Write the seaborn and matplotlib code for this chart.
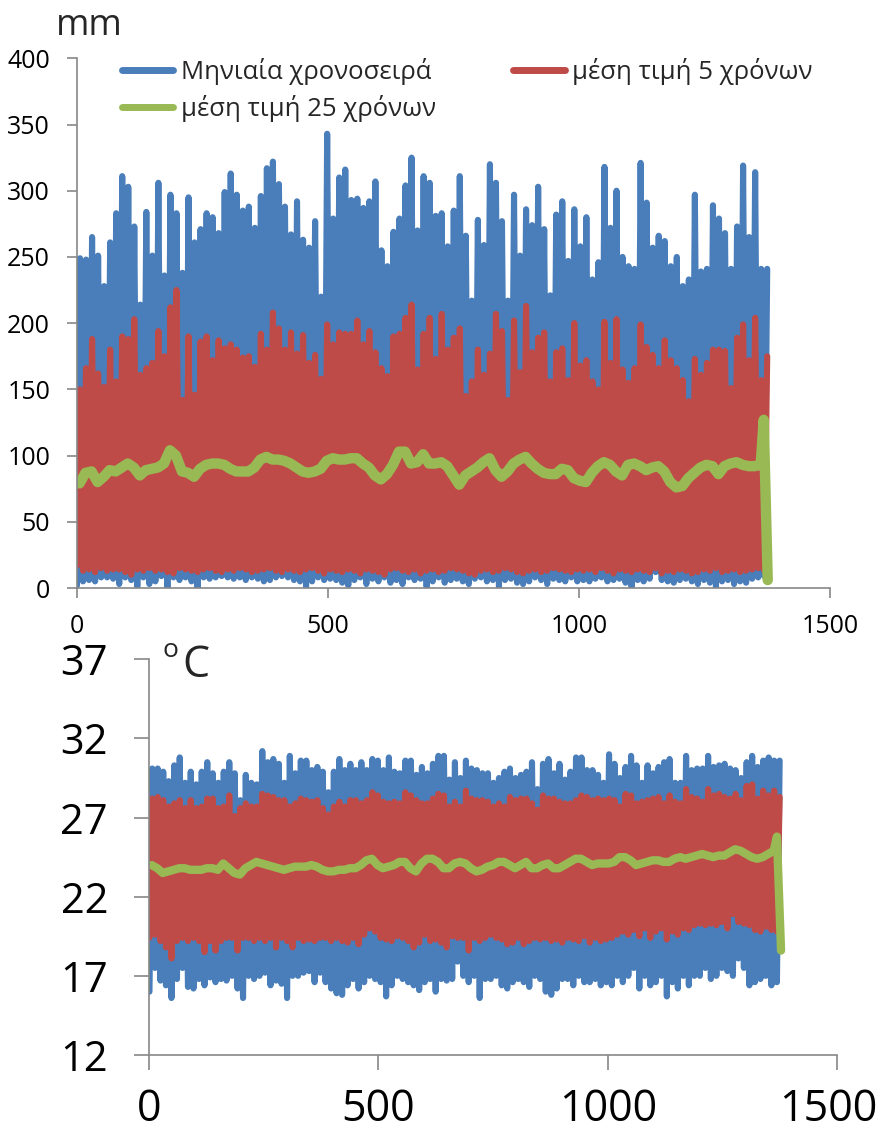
import numpy as np
import pandas as pd
import matplotlib
matplotlib.use("Agg")
import matplotlib.pyplot as plt
from matplotlib.lines import Line2D
from matplotlib.transforms import ScaledTranslation
import seaborn as sns

# ---------------------------------------------------------------------------
# Data: annual peak / trough of each monthly series (115 years = 1380 months)
# ---------------------------------------------------------------------------
rain_monthly_peak = [
    249, 248, 265, 251, 228, 261, 283, 311, 303, 273, 214, 284, 251, 306, 236, 297, 283, 238, 295, 261,
    271, 283, 280, 268, 299, 313, 297, 285, 288, 272, 296, 317, 322, 305, 288, 267, 292, 263, 257, 277,
    220, 343, 279, 310, 316, 293, 294, 287, 292, 307, 255, 243, 269, 279, 304, 325, 270, 311, 306, 281,
    283, 258, 285, 311, 266, 217, 278, 259, 320, 306, 277, 217, 297, 251, 286, 274, 303, 271, 221, 282,
    292, 247, 286, 258, 280, 233, 246, 318, 272, 300, 250, 243, 241, 321, 291, 257, 266, 262, 243, 250,
    228, 233, 297, 239, 241, 289, 279, 268, 241, 273, 319, 265, 314, 241, 241]
rain_monthly_trough = [
    2, 5, 6, 5, 8, 8, 7, 3, 8, 6, 1, 8, 3, 5, 9, 0, 8, 6, 8, 5,
    0, 8, 7, 8, 9, 8, 7, 8, 6, 8, 7, 5, 6, 8, 9, 8, 6, 5, 1, 5,
    8, 6, 7, 6, 4, 2, 6, 8, 3, 7, 5, 8, 4, 6, 3, 8, 6, 7, 1, 5,
    8, 4, 6, 7, 5, 3, 7, 8, 5, 6, 1, 6, 7, 4, 3, 5, 8, 6, 3, 7,
    6, 5, 8, 5, 6, 5, 7, 8, 5, 6, 7, 4, 1, 6, 5, 7, 12, 6, 5, 4,
    6, 7, 5, 3, 6, 4, 0, 5, 6, 3, 5, 4, 7, 8, 9]
rain_mean5_peak = [
    150, 166, 188, 162, 152, 180, 156, 190, 188, 203, 161, 166, 170, 194, 175, 212, 225, 142, 190, 146,
    186, 190, 172, 187, 181, 184, 180, 174, 175, 167, 192, 180, 208, 196, 180, 193, 177, 191, 170, 176,
    158, 199, 184, 193, 192, 192, 202, 184, 194, 178, 166, 160, 190, 192, 204, 214, 165, 192, 204, 173,
    207, 180, 189, 196, 145, 156, 180, 161, 177, 207, 194, 142, 202, 163, 213, 178, 189, 193, 156, 178,
    181, 157, 200, 168, 172, 156, 150, 201, 170, 203, 165, 155, 166, 199, 182, 176, 166, 187, 172, 166,
    157, 141, 173, 161, 170, 180, 180, 179, 151, 189, 199, 172, 204, 157, 175]
rain_mean5_trough = [
    17, 13, 14, 12, 15, 13, 14, 14, 12, 10, 14, 13, 15, 13, 14, 12, 11, 15, 14, 13,
    12, 14, 15, 13, 12, 14, 13, 15, 14, 12, 13, 14, 15, 13, 12, 14, 13, 12, 14, 15,
    13, 11, 14, 13, 12, 14, 13, 11, 14, 13, 12, 10, 14, 15, 13, 12, 14, 11, 13, 14,
    12, 13, 15, 14, 13, 11, 10, 13, 14, 12, 13, 15, 14, 12, 11, 13, 14, 12, 13, 15,
    14, 13, 12, 14, 13, 14, 12, 15, 13, 11, 14, 13, 12, 14, 13, 12, 15, 11, 13, 12,
    14, 13, 11, 12, 14, 13, 15, 12, 13, 14, 12, 13, 14, 15, 13]
rain_mean25 = [
    79, 87, 88, 80, 84, 89, 88, 91, 94, 91, 85, 89, 90, 91, 94, 104, 100, 88, 87, 84,
    90, 93, 94, 94, 93, 90, 88, 88, 88, 91, 97, 99, 97, 97, 96, 94, 91, 88, 87, 88,
    90, 96, 98, 97, 97, 98, 98, 94, 91, 85, 82, 86, 93, 103, 103, 94, 95, 101, 94, 94,
    95, 92, 85, 78, 85, 88, 91, 95, 98, 89, 84, 88, 94, 97, 99, 94, 90, 87, 86, 86,
    90, 89, 83, 81, 80, 87, 92, 95, 93, 88, 85, 93, 94, 92, 89, 91, 92, 88, 80, 76,
    77, 83, 87, 91, 93, 92, 86, 92, 94, 95, 93, 92, 92, 93]
rain_mean25_end_month = [1368, 1376]
rain_mean25_end_value = [127, 6]

temp_monthly_peak = [
    30.1, 30.1, 29.9, 29.3, 30.3, 30.8, 29.2, 29.9, 29.1, 29.9, 30.5, 29.8, 29.2, 29.9, 30.5, 29.8, 28.1, 29.7, 29.2, 29.1,
    31.2, 30.5, 30.7, 30.4, 29.2, 30.9, 29.8, 30.6, 30.6, 30.0, 30.2, 29.9, 28.6, 29.9, 30.7, 30.0, 30.4, 30.0, 30.5, 30.0,
    30.7, 30.6, 30.0, 30.8, 29.9, 29.8, 30.6, 30.6, 29.7, 30.2, 29.8, 30.4, 30.9, 30.9, 29.4, 30.5, 29.5, 30.6, 30.1, 30.0,
    29.8, 29.8, 29.2, 29.5, 29.9, 30.1, 29.5, 29.7, 29.9, 30.5, 28.8, 30.4, 30.7, 29.8, 30.4, 29.4, 29.9, 30.8, 30.8, 30.0,
    30.0, 29.7, 29.2, 31.0, 30.4, 29.5, 30.2, 30.9, 30.3, 29.2, 30.3, 29.8, 30.2, 30.5, 30.7, 29.2, 29.2, 30.9, 30.0, 30.1,
    30.1, 30.9, 30.2, 30.3, 30.4, 30.1, 30.0, 29.5, 30.5, 30.9, 30.2, 30.6, 30.8, 30.6, 30.6]
temp_monthly_trough = [
    16.0, 17.5, 16.7, 16.4, 15.6, 16.8, 17.5, 16.3, 16.2, 16.8, 16.4, 16.9, 16.6, 16.8, 16.7, 17.0, 16.2, 15.6, 17.0, 16.8,
    17.0, 17.2, 16.4, 16.7, 16.5, 15.6, 17.0, 17.0, 17.2, 17.3, 16.6, 17.2, 16.6, 16.2, 15.9, 15.8, 16.4, 16.8, 16.2, 16.6,
    17.0, 16.8, 16.6, 15.7, 16.4, 17.0, 16.8, 16.6, 16.4, 16.1, 16.6, 16.8, 16.0, 16.8, 16.7, 16.8, 17.9, 17.0, 16.6, 17.0,
    15.6, 16.8, 16.8, 17.0, 16.4, 16.2, 16.6, 16.8, 16.6, 16.3, 17.0, 16.8, 16.0, 15.8, 16.2, 16.8, 16.8, 16.4, 17.0, 16.6,
    16.6, 16.8, 16.4, 16.6, 16.4, 17.0, 16.6, 17.0, 17.5, 16.2, 17.0, 16.4, 16.6, 17.0, 15.7, 16.6, 16.2, 17.0, 16.4, 17.0,
    17.0, 17.5, 16.8, 17.0, 17.5, 17.3, 17.0, 18.1, 17.5, 16.4, 16.6, 16.8, 17.0, 16.4, 16.6]
temp_mean5_peak = [
    28.2, 28.3, 28.1, 27.7, 27.9, 28.1, 27.6, 28.1, 27.6, 27.7, 28.2, 28.2, 27.6, 27.7, 28.4, 27.1, 27.6, 27.9, 27.7, 27.7,
    28.5, 28.4, 28.3, 28.1, 28.1, 27.7, 27.9, 28.2, 28.1, 28.0, 28.1, 27.6, 27.2, 27.7, 28.0, 27.7, 28.1, 28.1, 27.9, 28.1,
    28.6, 28.4, 28.0, 27.9, 28.0, 27.9, 28.6, 28.4, 28.1, 27.9, 27.9, 28.2, 28.5, 28.4, 27.7, 28.0, 27.7, 28.7, 28.2, 28.1,
    28.1, 28.0, 27.7, 27.9, 27.7, 28.3, 28.1, 28.2, 28.2, 27.9, 27.5, 28.4, 28.2, 28.2, 28.0, 27.9, 27.9, 28.1, 28.4, 28.3,
    28.1, 28.2, 28.1, 28.2, 28.1, 27.7, 28.5, 28.4, 27.9, 28.0, 28.1, 28.2, 28.3, 27.9, 28.4, 28.0, 27.9, 28.8, 28.3, 28.2,
    28.0, 28.8, 28.4, 28.5, 28.3, 28.2, 28.5, 28.1, 29.0, 29.1, 28.2, 28.7, 28.4, 28.7, 28.3]
temp_mean5_trough = [
    19.4, 19.6, 19.2, 18.8, 18.1, 19.2, 19.4, 19.2, 19.4, 19.2, 18.5, 19.2, 18.6, 19.2, 19.4, 19.4, 18.6, 19.4, 19.4, 19.2,
    19.4, 19.2, 19.4, 18.8, 19.4, 19.2, 18.8, 19.4, 19.2, 19.3, 19.2, 19.4, 19.4, 19.2, 19.4, 19.2, 19.1, 19.4, 19.0, 19.6,
    20.0, 19.8, 19.4, 19.3, 19.2, 19.5, 19.4, 19.2, 18.8, 19.1, 19.6, 19.2, 19.3, 19.1, 18.8, 19.5, 19.4, 19.4, 18.6, 19.4,
    19.2, 19.4, 19.6, 19.4, 19.3, 19.0, 19.1, 19.4, 19.0, 19.2, 19.4, 19.3, 19.4, 19.2, 19.3, 19.1, 19.4, 19.3, 19.2, 19.5,
    19.1, 19.4, 19.2, 19.3, 19.4, 19.6, 19.8, 19.6, 19.9, 19.5, 20.0, 19.4, 19.8, 20.0, 19.3, 19.8, 19.6, 20.0, 19.9, 20.2,
    20.3, 20.2, 20.3, 20.2, 20.4, 20.0, 20.9, 20.4, 20.3, 20.2, 19.9, 19.8, 20.1, 19.9, 19.8]
temp_mean25 = [
    24.0, 23.8, 23.5, 23.6, 23.7, 23.8, 23.8, 23.7, 23.7, 23.7, 23.8, 23.8, 23.7, 24.1, 23.8, 23.5, 23.4, 23.8, 24.0, 24.2,
    24.1, 24.0, 23.9, 23.8, 23.7, 23.8, 23.9, 23.9, 23.9, 24.0, 23.9, 23.7, 23.6, 23.6, 23.7, 23.7, 23.8, 23.8, 24.0, 24.3,
    24.4, 24.0, 23.8, 23.9, 24.0, 24.2, 24.2, 23.8, 23.6, 24.1, 24.4, 24.4, 24.2, 23.8, 23.8, 24.1, 24.2, 24.1, 23.8, 23.6,
    23.7, 23.9, 24.0, 24.2, 24.2, 24.0, 23.8, 24.0, 24.2, 23.8, 23.8, 24.0, 24.1, 23.8, 23.8, 24.0, 24.2, 24.4, 24.4, 24.2,
    24.0, 24.1, 24.1, 24.1, 24.2, 24.5, 24.5, 24.3, 24.0, 24.1, 24.2, 24.3, 24.3, 24.2, 24.2, 24.4, 24.5, 24.4, 24.5, 24.6,
    24.7, 24.6, 24.5, 24.6, 24.6, 24.8, 25.0, 24.9, 24.7, 24.5, 24.4, 24.5, 24.7, 24.9]
temp_mean25_end_month = [1369, 1378]
temp_mean25_end_value = [25.8, 18.6]

legend_labels = ["Μηνιαία χρονοσειρά", "μέση τιμή 5 χρόνων", "μέση τιμή 25 χρόνων"]
rain_unit = "mm"
x_ticks = [0, 500, 1000, 1500]
rain_y_ticks = [0, 50, 100, 150, 200, 250, 300, 350, 400]
temp_y_ticks = [12, 17, 22, 27, 32, 37]

BLUE = "#4A7EBB"
RED = "#BE4B48"
GREEN = "#98B954"
AXIS = "#888888"


def seasonal_frame(trough, peak):
    """Month-by-month zigzag: trough early in each year, peak mid-year."""
    years = np.arange(len(peak))
    month = np.column_stack([years * 12 + 1, years * 12 + 7]).ravel()
    value = np.column_stack([trough, peak]).ravel()
    return pd.DataFrame({"month": month, "value": value})


def running_mean_frame(values, end_month, end_value):
    years = np.arange(len(values))
    month = np.concatenate([years * 12 + 6, end_month])
    value = np.concatenate([values, end_value])
    return pd.DataFrame({"month": month, "value": value})


sns.set_theme(style="ticks")
plt.rcParams["font.family"] = ["Open Sans", "DejaVu Sans"]

W, H = 885, 1137
fig = plt.figure(figsize=(W / 100, H / 100), dpi=100)

ax1 = fig.add_axes([76.5 / W, 1 - 588 / H, (830 - 76.5) / W, (588 - 58.3) / H])
ax2 = fig.add_axes([149 / W, 1 - 1055 / H, (837 - 149) / W, (1055 - 659.3) / H])

line_kw = dict(x="month", y="value", sort=False, estimator=None, legend=False)
cap_kw = dict(solid_capstyle="round", solid_joinstyle="round")

# Rainfall panel
sns.lineplot(data=seasonal_frame(rain_monthly_trough, rain_monthly_peak), ax=ax1,
             color=BLUE, lw=4.4, **line_kw, **cap_kw)
sns.lineplot(data=seasonal_frame(rain_mean5_trough, rain_mean5_peak), ax=ax1,
             color=RED, lw=4.4, **line_kw, **cap_kw)
sns.lineplot(data=running_mean_frame(rain_mean25, rain_mean25_end_month, rain_mean25_end_value),
             ax=ax1, color=GREEN, lw=7.5, **line_kw, **cap_kw)

# Temperature panel
sns.lineplot(data=seasonal_frame(temp_monthly_trough, temp_monthly_peak), ax=ax2,
             color=BLUE, lw=4.4, **line_kw, **cap_kw)
sns.lineplot(data=seasonal_frame(temp_mean5_trough, temp_mean5_peak), ax=ax2,
             color=RED, lw=4.4, **line_kw, **cap_kw)
sns.lineplot(data=running_mean_frame(temp_mean25, temp_mean25_end_month, temp_mean25_end_value),
             ax=ax2, color=GREEN, lw=6, **line_kw, **cap_kw)

for ax in (ax1, ax2):
    ax.set_xlim(0, 1500)
    ax.set_xticks(x_ticks)
    ax.set_xlabel("")
    ax.set_ylabel("")
    for side in ("top", "right"):
        ax.spines[side].set_visible(False)
    for side in ("left", "bottom"):
        ax.spines[side].set_color(AXIS)
        ax.spines[side].set_linewidth(1.2)
    ax.set_facecolor("white")

ax1.set_ylim(0, 400)
ax1.set_yticks(rain_y_ticks)
ax1.tick_params(axis="both", direction="out", length=7, width=1.2, color=AXIS,
                labelsize=18, labelcolor="black")
ax1.tick_params(axis="y", pad=12)
ax1.tick_params(axis="x", pad=12)

ax2.set_ylim(12, 37)
ax2.set_yticks(temp_y_ticks)
ax2.tick_params(axis="both", direction="out", length=10.5, width=1.2, color=AXIS,
                labelcolor="black")
ax2.tick_params(axis="y", pad=19, labelsize=30)
ax2.tick_params(axis="x", pad=13, labelsize=31)

# Keep the last bottom tick label inside the figure
fig.canvas.draw()
last_label = ax2.get_xticklabels()[-1]
last_label.set_transform(last_label.get_transform()
                         + ScaledTranslation(-0.09, 0, fig.dpi_scale_trans))

# Unit labels
fig.text(56 / W, 1 - 35 / H, rain_unit, fontsize=26, ha="left", va="baseline")
fig.text(162 / W, 1 - 657 / H, "o", fontsize=19, ha="left", va="baseline")
fig.text(182 / W, 1 - 677 / H, "C", fontsize=31, ha="left", va="baseline")

# Legend: row 1 blue + red, row 2 green
handle_kw = dict(lw=5, solid_capstyle="round")
h_blue = Line2D([], [], color=BLUE, **handle_kw)
h_red = Line2D([], [], color=RED, **handle_kw)
h_green = Line2D([], [], color=GREEN, **handle_kw)
fig.legend([h_blue, h_green, h_red], [legend_labels[0], legend_labels[2], legend_labels[1]],
           ncol=2, loc="upper left", bbox_to_anchor=(122 / W, 1 - 58 / H),
           frameon=False, fontsize=18.5, handlelength=2.0, handletextpad=0.3,
           columnspacing=3.0, labelspacing=0.38, borderpad=0, borderaxespad=0)

fig.savefig("out.png", dpi=100, facecolor="white")
